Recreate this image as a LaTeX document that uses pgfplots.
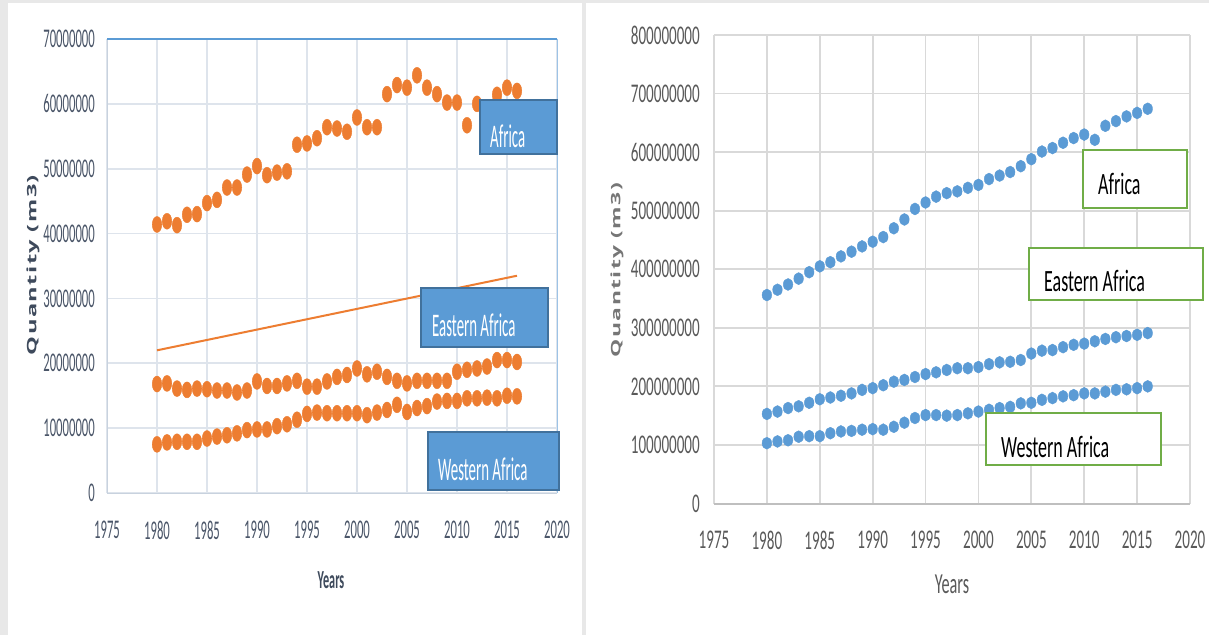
\documentclass[border=0pt]{standalone}
\usepackage{pgfplots}
\pgfplotsset{compat=1.18}
\usepackage{graphicx}
\usepackage{fontspec}
\setmainfont{Carlito}
\newfontfamily\Lfont{Carlito}[FakeStretch=0.47]
\newfontfamily\LBfont{Carlito}[FakeStretch=0.45]
\newfontfamily\Rfont{Carlito}[FakeStretch=0.56]
\newfontfamily\RBfont{Carlito}[FakeStretch=0.58]
\newfontfamily\Qfont{Open Sans}[LetterSpace=6]
\definecolor{orng}{HTML}{ED7D31}
\definecolor{blu}{HTML}{5B9BD5}
\definecolor{lgrid}{HTML}{DEE4EC}
\definecolor{rgrid}{HTML}{D9D9D9}
\definecolor{ltick}{HTML}{4A5568}
\definecolor{rtick}{HTML}{595959}
\definecolor{boxedge}{HTML}{41719C}
\definecolor{grn}{HTML}{70AD47}
\definecolor{bg}{HTML}{E8E8E8}
\definecolor{ltop}{HTML}{5B9BD5}
\definecolor{lright}{HTML}{9DC3E6}
\definecolor{laxis}{HTML}{C8D2DE}
\definecolor{raxis}{HTML}{BFBFBF}
\definecolor{lylab}{HTML}{3E4A5C}
\definecolor{rylab}{HTML}{767676}

\pgfplotstableread{
year africa eastern western
1980 41.4 16.8 7.5
1981 41.9 16.9 7.8
1982 41.3 16.1 7.9
1983 42.9 15.9 7.9
1984 43.0 16.1 7.9
1985 44.7 16.0 8.4
1986 45.2 15.8 8.7
1987 47.1 15.8 8.9
1988 47.1 15.5 9.2
1989 49.1 15.8 9.7
1990 50.4 17.2 9.8
1991 49.0 16.5 9.8
1992 49.4 16.5 10.3
1993 49.6 16.9 10.6
1994 53.7 17.3 11.3
1995 53.9 16.4 12.2
1996 54.7 16.4 12.4
1997 56.4 17.2 12.3
1998 56.2 17.9 12.3
1999 55.7 18.2 12.3
2000 57.9 19.2 12.3
2001 56.4 18.3 12.0
2002 56.4 18.7 12.4
2003 61.5 17.9 12.8
2004 62.9 17.3 13.6
2005 62.5 16.9 12.5
2006 64.4 17.3 13.1
2007 62.5 17.3 13.4
2008 61.5 17.3 14.1
2009 60.2 17.3 14.2
2010 60.2 18.7 14.2
2011 56.7 19.0 14.6
2012 60.0 19.2 14.6
2013 58.5 19.5 14.7
2014 61.4 20.5 14.6
2015 62.5 20.5 15.0
2016 62.0 20.2 14.9
}\lefttable

\pgfplotstableread{
year africa eastern western
1980 356 153 103
1981 365 157 106
1982 374 163 108
1983 384 166 114
1984 395 172 115
1985 405 178 115
1986 412 181 120
1987 422 184 123
1988 430 188 124
1989 439 194 126
1990 447 197 127
1991 455 202 126
1992 470 208 131
1993 485 211 138
1994 503 216 146
1995 514 221 151
1996 524 224 151
1997 530 228 150
1998 533 231 151
1999 539 231 154
2000 544 233 157
2001 554 238 160
2002 560 241 163
2003 566 242 165
2004 576 245 171
2005 588 256 172
2006 601 261 177
2007 607 262 180
2008 616 267 183
2009 624 271 185
2010 630 273 188
2011 621 277 188
2012 645 281 191
2013 653 284 194
2014 661 286 195
2015 667 288 197
2016 674 291 200
}\righttable

\begin{document}
\begin{tikzpicture}[x=1pt,y=1pt]
\path[use as bounding box] (0,0) rectangle (1209,635);
\fill[bg] (0,0) rectangle (1209,635);
\fill[white] (8,0) rectangle (582,632);
\fill[white] (586,0) rectangle (1209,632);

% ---------------- Left chart ----------------
\begin{axis}[
  at={(107pt,142pt)}, anchor=south west, scale only axis,
  width=450pt, height=454pt,
  xmin=1975, xmax=2020, ymin=0, ymax=70,
  xtick={1975,1980,1985,1990,1995,2000,2005,2010,2015,2020},
  xticklabels={1975,1980,1985,1990,1995,2000,2005,2010,2015,2020},
  ytick={0,10,20,30,40,50,60,70},
  yticklabels={0,10000000,20000000,30000000,40000000,50000000,60000000,70000000},
  major tick length=0pt,
  grid=major, major grid style={lgrid, line width=1.8pt},
  axis line style={draw=none},
  tick label style={font=\Lfont\fontsize{27}{27}\selectfont, text=ltick, inner sep=0pt},
  xticklabel style={yshift=-28pt},
  yticklabel style={xshift=-12pt},
  clip=false,
]
\draw[laxis, line width=1pt] (rel axis cs:0,0) -- (rel axis cs:0,1);
\draw[laxis, line width=1pt] (rel axis cs:0,0) -- (rel axis cs:1,0);
\draw[lright, line width=1pt] (rel axis cs:1,0) -- (rel axis cs:1,1);
\draw[ltop, line width=2pt] (rel axis cs:0,1) -- (rel axis cs:1,1);
\addplot[only marks, mark=*, mark size=8pt, mark options={xscale=0.6, fill=orng, draw=orng}] table[x=year, y=africa] {\lefttable};
\addplot[only marks, mark=*, mark size=8pt, mark options={xscale=0.6, fill=orng, draw=orng}] table[x=year, y=eastern] {\lefttable};
\addplot[only marks, mark=*, mark size=8pt, mark options={xscale=0.6, fill=orng, draw=orng}] table[x=year, y=western] {\lefttable};
\addplot[orng, line width=2pt, no marks] coordinates {(1980,22.0) (2016,33.5)};
\end{axis}

% ---------------- Right chart ----------------
\begin{axis}[
  at={(714pt,131.5pt)}, anchor=south west, scale only axis,
  width=476pt, height=468.5pt,
  xmin=1975, xmax=2020, ymin=0, ymax=800,
  xtick={1975,1980,1985,1990,1995,2000,2005,2010,2015,2020},
  xticklabels={1975,1980,1985,1990,1995,2000,2005,2010,2015,2020},
  ytick={0,100,200,300,400,500,600,700,800},
  yticklabels={0,100000000,200000000,300000000,400000000,500000000,600000000,700000000,800000000},
  major tick length=0pt,
  grid=major, major grid style={rgrid, line width=1.8pt},
  axis line style={draw=none},
  tick label style={font=\Rfont\fontsize{27}{27}\selectfont, text=rtick, inner sep=0pt},
  xticklabel style={yshift=-27pt},
  yticklabel style={xshift=-14pt},
  clip=false,
]
\draw[raxis, line width=2pt] (rel axis cs:0,0) -- (rel axis cs:1,0);
\addplot[only marks, mark=*, mark size=6pt, mark options={xscale=0.8, fill=blu, draw=blu}] table[x=year, y=africa] {\righttable};
\addplot[only marks, mark=*, mark size=6pt, mark options={xscale=0.8, fill=blu, draw=blu}] table[x=year, y=eastern] {\righttable};
\addplot[only marks, mark=*, mark size=6pt, mark options={xscale=0.8, fill=blu, draw=blu}] table[x=year, y=western] {\righttable};
\end{axis}

% axis titles
\node[rotate=90, inner sep=0pt, text=lylab] at (33,370) {\resizebox*{180pt}{13pt}{\Qfont\bfseries Quantity (m3)}};
\node[rotate=90, inner sep=0pt, text=rylab] at (617,365) {\resizebox*{174pt}{13pt}{\Qfont\bfseries Quantity (m3)}};
\node[anchor=base, inner sep=0pt, text=lylab] at (331,47) {\Lfont\bfseries\fontsize{26}{26}\selectfont Years};
\node[anchor=base, inner sep=0pt, text=rtick] at (952,42) {\Rfont\fontsize{29}{29}\selectfont Years};

% left text boxes
\draw[boxedge, line width=2pt, fill=blu] (480,535) rectangle (557,481);
\node[anchor=base west, inner sep=0pt, text=white] at (490,487) {\LBfont\fontsize{33}{33}\selectfont Africa};
\draw[boxedge, line width=2pt, fill=blu] (421,347) rectangle (548,288);
\node[anchor=base west, inner sep=0pt, text=white] at (432,298) {\LBfont\fontsize{33}{33}\selectfont Eastern Africa};
\draw[boxedge, line width=2pt, fill=blu] (428,203) rectangle (559,145);
\node[anchor=base west, inner sep=0pt, text=white] at (438,155) {\LBfont\fontsize{33}{33}\selectfont Western Africa};

% right text boxes
\draw[grn, line width=2pt, fill=white] (1083,485) rectangle (1187,427);
\node[anchor=base west, inner sep=0pt, text=black] at (1098,440) {\RBfont\fontsize{31}{31}\selectfont Africa};
\draw[grn, line width=2pt, fill=white] (1029,387) rectangle (1203,335);
\node[anchor=base west, inner sep=0pt, text=black] at (1044,343) {\RBfont\fontsize{31}{31}\selectfont Eastern Africa};
\draw[grn, line width=2pt, fill=white] (986,222) rectangle (1161,170);
\node[anchor=base west, inner sep=0pt, text=black] at (1001,178) {\RBfont\fontsize{31}{31}\selectfont Western Africa};
\end{tikzpicture}
\end{document}
